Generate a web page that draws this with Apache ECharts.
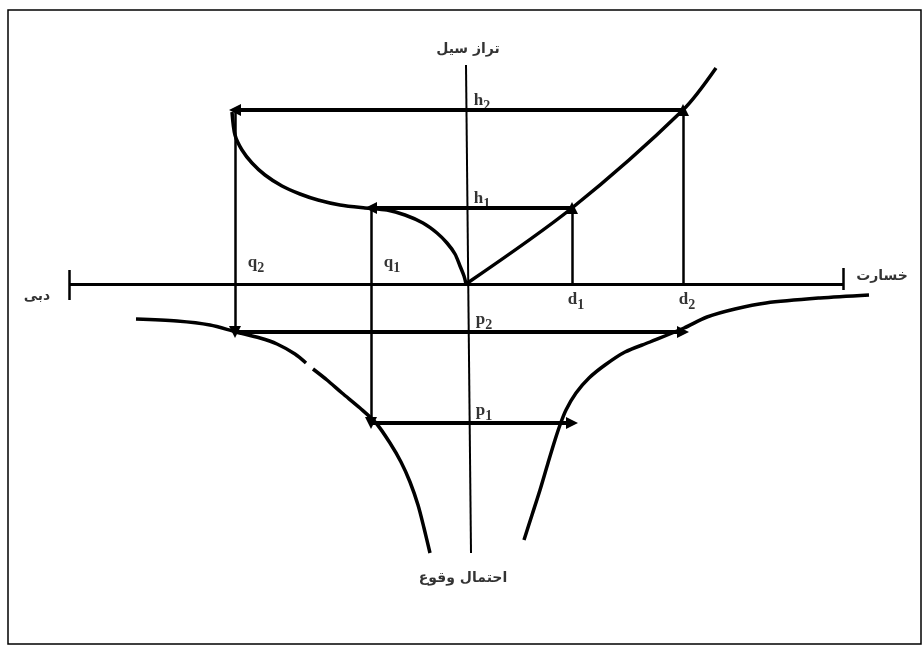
<!DOCTYPE html>
<html>
<head>
<meta charset="utf-8">
<title>منحنی خسارت سیل</title>
<script src="https://cdn.jsdelivr.net/npm/echarts@6/dist/echarts.min.js"></script>
<style>
    html, body { margin: 0; background: #fff; }
    #chart { width: 924px; height: 647px; }
</style>
</head>
<body>
<div id="chart"></div>
<script>
// origin = point where stage axis crosses the discharge / damage axis
var stageLevels = [76, 174];    // h1, h2
var damageValues = [106, 217];  // d1, d2
var flowValues = [-95, -231];   // q1, q2
var probValues = [-139, -48];   // p1, p2

var hNames = ['h', 'h'];
var dNames = ['d', 'd'];
var qNames = ['q', 'q'];
var pNames = ['p', 'p'];
var subIdx = ['1', '2'];

// stage - damage curve (upper right)
var stageDamage = [[0, 0], [106, 76], [217, 174], [250, 216]];
// stage - discharge curve (upper left)
var stageFlow = [[-234, 172], [-231, 149], [-224, 134], [-214, 121], [-201, 109], [-184, 98],
    [-166, 90], [-148, 84], [-126, 79], [-101, 76], [-79, 74], [-61, 69], [-43, 61],
    [-29, 51], [-19, 41], [-11, 30], [-6, 18], [-2, 8], [0, 0]];
// discharge - probability curve (lower left, drawn with a small break)
var flowProbA = [[-330, -35], [-289, -37], [-256, -41], [-230, -48], [-206, -54], [-189, -60],
    [-171, -70], [-160, -79]];
var flowProbB = [[-153, -85], [-139, -96], [-124, -109], [-106, -124], [-90, -139], [-76, -159],
    [-65, -178], [-56, -198], [-48, -221], [-42, -244], [-36, -269]];
// damage - probability curve (lower right)
var damageProb = [[403, -11], [354, -14], [300, -19], [269, -25], [241, -33], [218, -44],
    [184, -58], [159, -68], [139, -81], [123, -94], [110, -109], [100, -126], [94, -141],
    [89, -156], [82, -179], [74, -206], [66, -231], [58, -256]];

// axes of the diagram
var stageAxis = [[0, 219], [5, -269]];
var flowDamageAxis = [[-397, 0], [377, 0]];
var axisEndTicks = [[[-397, 14], [-397, -16]], [[377, 16], [377, -6]]];

var axisTitles = ['تراز سیل', 'خسارت', 'دبی', 'احتمال وقوع'];

var myChart = echarts.init(document.getElementById('chart'));

function curve(data, width) {
    return {
        type: 'line', data: data, smooth: 0.3, symbol: 'none', silent: true,
        lineStyle: { color: '#000', width: width }
    };
}
function arrows(segs, width) {
    return {
        type: 'lines', coordinateSystem: 'cartesian2d', silent: true,
        symbol: ['none', 'triangle'], symbolSize: 12,
        lineStyle: { color: '#000', width: width, opacity: 1 },
        itemStyle: { color: '#000' },
        data: segs.map(function (s) { return { coords: s }; })
    };
}
function plain(segs, width) {
    return {
        type: 'lines', coordinateSystem: 'cartesian2d', silent: true,
        symbol: 'none',
        lineStyle: { color: '#000', width: width, opacity: 1 },
        data: segs.map(function (s) { return { coords: s }; })
    };
}

// arrows: d -> h -> q -> p -> d
var upArrows = [], leftArrows = [], downArrows = [], rightArrows = [];
for (var i = 0; i < 2; i++) {
    var d = damageValues[i], h = stageLevels[i], q = flowValues[i], p = probValues[i];
    upArrows.push([[d, 0], [d, h]]);
    leftArrows.push([[d, h], [q, h]]);
    downArrows.push([[q, h], [q, p]]);
    rightArrows.push([[q, p], [d, p]]);
}

var symFont = {
    a: { fontFamily: 'Liberation Serif', fontWeight: 'bold', fontSize: 17, color: '#000', lineHeight: 20, verticalAlign: 'middle' },
    b: { fontFamily: 'Liberation Serif', fontWeight: 'bold', fontSize: 14, color: '#000', lineHeight: 20, verticalAlign: 'bottom', padding: [0, 0, -2, 0] }
};
function tag(pos, text, offset, rich) {
    return {
        value: pos,
        label: { show: true, position: 'inside', formatter: text, offset: offset, rich: rich }
    };
}
var symbolTags = [];
for (var j = 0; j < 2; j++) {
    symbolTags.push(tag([0, stageLevels[j]], '{a|' + hNames[j] + '}{b|' + subIdx[j] + '}', [16, -9], symFont));
    symbolTags.push(tag([damageValues[j], 0], '{a|' + dNames[j] + '}{b|' + subIdx[j] + '}', [4, 16], symFont));
    symbolTags.push(tag([flowValues[j], 0], '{a|' + qNames[j] + '}{b|' + subIdx[j] + '}', [21, -21], symFont));
    symbolTags.push(tag([0, probValues[j]], '{a|' + pNames[j] + '}{b|' + subIdx[j] + '}', [18, -12], symFont));
}
var titleFont = { t: { fontFamily: 'DejaVu Sans', fontWeight: 'bold', fontSize: 14, color: '#000' } };
var titleTags = [
    tag(stageAxis[0], '{t|' + axisTitles[0] + '}', [2, -16], titleFont),
    tag(flowDamageAxis[1], '{t|' + axisTitles[1] + '}', [39, -8], titleFont),
    tag(flowDamageAxis[0], '{t|' + axisTitles[2] + '}', [-32, 12], titleFont),
    tag(stageAxis[1], '{t|' + axisTitles[3] + '}', [-8, 25], titleFont)
];

myChart.setOption({
    animation: false,
    backgroundColor: '#fff',
    grid: { left: 0, right: 0, top: 0, bottom: 0 },
    xAxis: { type: 'value', min: -466, max: 458, show: false },
    yAxis: { type: 'value', min: -363, max: 284, show: false },
    graphic: [{
        type: 'rect',
        shape: { x: 8, y: 10, width: 913, height: 634 },
        style: { fill: 'none', stroke: '#000', lineWidth: 1.5 }
    }],
    series: [
        plain([stageAxis], 2),
        plain([flowDamageAxis], 3),
        plain(axisEndTicks, 2.5),
        curve(stageDamage, 3.5),
        curve(stageFlow, 3.5),
        curve(flowProbA, 3.5),
        curve(flowProbB, 3.5),
        curve(damageProb, 3.5),
        arrows(upArrows, 2.5),
        arrows(leftArrows, 4),
        arrows(downArrows, 2.5),
        arrows(rightArrows, 4),
        {
            type: 'scatter', symbolSize: 0, silent: true,
            data: symbolTags.concat(titleTags)
        }
    ]
});
</script>
</body>
</html>
